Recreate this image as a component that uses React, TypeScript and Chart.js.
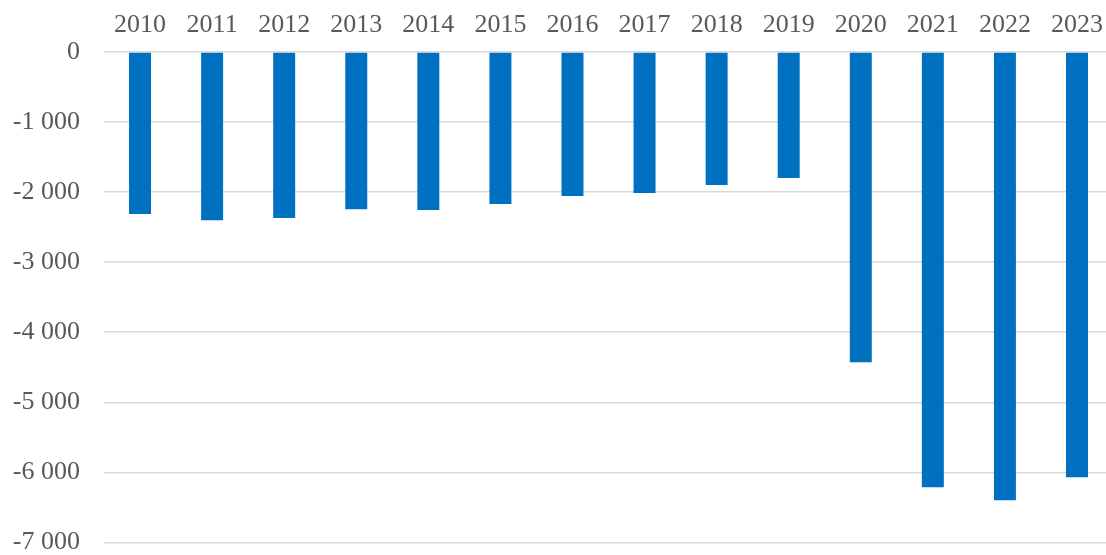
import React, { useEffect, useRef } from "react";
import { Chart, registerables } from "chart.js";

Chart.register(...registerables);

const years = ["2010", "2011", "2012", "2013", "2014", "2015", "2016", "2017", "2018", "2019", "2020", "2021", "2022", "2023"];
const values = [-2314, -2400, -2371, -2243, -2257, -2171, -2057, -2014, -1900, -1800, -4430, -6214, -6400, -6071];
const yMin = -7000;
const yMax = 0;
const yStep = 1000;

function fmt(v: number): string {
  const s = Math.abs(v).toString().replace(/\B(?=(\d{3})+(?!\d))/g, " ");
  return (v < 0 ? "-" : "") + s;
}

export default function App() {
  const ref = useRef<HTMLCanvasElement | null>(null);
  useEffect(() => {
    if (!ref.current) return;
    const font = { family: "'Liberation Serif', 'Times New Roman', serif", size: 26 };
    const chart = new Chart(ref.current, {
      type: "bar",
      data: {
        labels: years,
        datasets: [
          {
            data: values,
            backgroundColor: "#0070C0",
            borderWidth: 0,
            categoryPercentage: 1,
            barPercentage: 0.305,
          },
        ],
      },
      options: {
        animation: false,
        responsive: false,
        maintainAspectRatio: false,
        layout: { padding: { left: 0, right: 0, top: 0, bottom: 0 } },
        plugins: { legend: { display: false }, tooltip: { enabled: false } },
        scales: {
          x: {
            position: "top",
            grid: { display: false, drawTicks: false },
            border: { display: false },
            ticks: { color: "#595959", font, padding: 11, maxRotation: 0, autoSkip: false },
            afterFit: (s: any) => {
              s.height = 52;
            },
          },
          y: {
            min: yMin,
            max: yMax,
            grid: { color: "#d9d9d9", lineWidth: 1.5, drawTicks: false },
            border: { display: false },
            ticks: { stepSize: yStep, color: "#595959", font, padding: 24, callback: (v: any) => fmt(Number(v)) },
            afterFit: (s: any) => {
              s.width = 104;
            },
          },
        },
      },
    });
    return () => chart.destroy();
  }, []);
  return (
    <div style={{ position: "fixed", left: 0, top: 0, width: 1106, height: 555, overflow: "hidden", background: "#fff" }}>
      <canvas ref={ref} width={1114} height={582} style={{ display: "block", width: 1114, height: 582 }} />
    </div>
  );
}
